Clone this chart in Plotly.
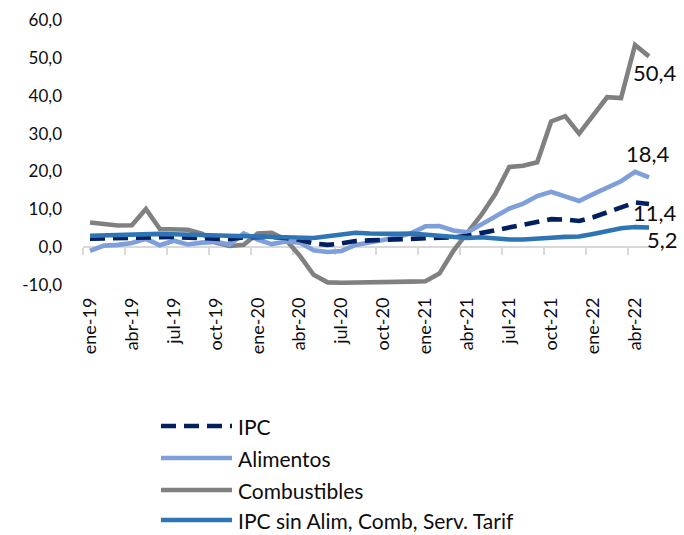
import plotly.graph_objects as go

# ---------------- data ----------------
months = [
    "ene-19", "feb-19", "mar-19", "abr-19", "may-19", "jun-19", "jul-19", "ago-19", "sep-19", "oct-19", "nov-19", "dic-19",
    "ene-20", "feb-20", "mar-20", "abr-20", "may-20", "jun-20", "jul-20", "ago-20", "sep-20", "oct-20", "nov-20", "dic-20",
    "ene-21", "feb-21", "mar-21", "abr-21", "may-21", "jun-21", "jul-21", "ago-21", "sep-21", "oct-21", "nov-21", "dic-21",
    "ene-22", "feb-22", "mar-22", "abr-22", "may-22",
]
tick_labels = months[::3]

ipc = [2.2, 2.3, 2.5, 2.6, 2.8, 2.8, 2.7, 2.5, 2.4, 2.2, 2.1, 2.6,
       2.8, 2.7, 2.4, 1.9, 1.0, 0.6, 1.0, 1.6, 1.8, 1.9, 2.0, 2.1,
       2.3, 2.4, 2.6, 3.0, 3.7, 4.6, 5.2, 5.7, 6.5, 7.4, 7.3, 6.9,
       7.9, 9.1, 10.4, 11.8, 11.4]
alimentos = [-1.0, 0.4, 0.6, 1.1, 2.2, 0.5, 1.7, 0.7, 1.2, 1.4, 0.7, 3.6,
             2.0, 0.8, 1.5, 1.2, -0.8, -1.3, -1.0, 0.6, 1.2, 1.8, 2.6, 3.7,
             5.5, 5.6, 4.4, 3.9, 6.0, 7.9, 10.2, 11.5, 13.5, 14.6, 13.4, 12.2,
             14.0, 15.6, 17.4, 19.9, 18.4]
combustibles = [6.5, 6.0, 5.7, 5.8, 10.1, 4.8, 4.8, 4.6, 3.6, 1.2, 0.3, 0.6,
                3.6, 3.8, 2.0, -2.2, -7.3, -9.3, -9.4, -9.4, -9.3, -9.3, -9.2, -9.1,
                -9.0, -7.0, -1.0, 3.8, 8.5, 14.0, 21.2, 21.5, 22.4, 33.2, 34.6, 30.0,
                34.6, 39.6, 39.4, 53.4, 50.4]
subyacente = [3.0, 3.1, 3.2, 3.4, 3.6, 3.5, 3.4, 3.3, 3.2, 3.2, 3.1, 3.1,
              3.0, 3.0, 2.8, 2.5, 2.4, 2.9, 3.4, 3.8, 3.6, 3.4, 3.5, 3.6,
              3.3, 2.9, 2.6, 2.4, 2.6, 2.2, 2.0, 2.0, 2.1, 2.5, 2.7, 2.8,
              3.5, 4.4, 5.0, 5.3, 5.2]

y_ticks = [-10, 0, 10, 20, 30, 40, 50, 60]

series_names = ["IPC", "Alimentos", "Combustibles", "IPC sin Alim, Comb, Serv. Tarif"]

# ---------------- style ----------------
W, H = 684, 535
ML, MR, MT, MB = 83, 28, 20, 250
PW, PH = W - ML - MR, H - MT - MB
FONT = "Lato"
TXT = "#0d0d0d"
C_IPC = "#002060"
C_ALI = "#7f9fda"
C_COM = "#808080"
C_SUB = "#2e75b6"
LW = 4.6
DASH = "15px,8px"

def fmt(v):
    return f"{v:.1f}".replace(".", ",")

series = [
    (series_names[0], ipc, C_IPC, DASH),
    (series_names[1], alimentos, C_ALI, "solid"),
    (series_names[2], combustibles, C_COM, "solid"),
    (series_names[3], subyacente, C_SUB, "solid"),
]

fig = go.Figure()
# draw order: combustibles, alimentos, ipc, subyacente (core on top)
for idx in [2, 1, 0, 3]:
    name, vals, col, dash = series[idx]
    fig.add_trace(go.Scatter(
        x=months, y=vals, name=name, mode="lines",
        line=dict(color=col, width=LW, dash=dash),
        showlegend=False, hoverinfo="skip",
    ))

# helper trace for the category-boundary tick axis at y = 0
n = len(months)
fig.add_trace(go.Scatter(x=[-0.5, n - 0.5], y=[0, 0], xaxis="x2", mode="markers",
                         marker=dict(opacity=0), showlegend=False, hoverinfo="skip"))

# end-of-series data labels
label_offsets = {
    "Combustibles": (6, -16),
    "Alimentos": (-1, 24),
    "IPC": (6, -9),
    "IPC sin Alim, Comb, Serv. Tarif": (13, -12),
}
for name, vals, col, dash in series:
    dx, dy = label_offsets[name]
    fig.add_annotation(x=months[-1], y=vals[-1], xref="x", yref="y",
                       text=fmt(vals[-1]), showarrow=False,
                       xshift=dx, yshift=dy,
                       font=dict(family=FONT, size=22, color=TXT))

# manual legend (long line samples like the original)
def px_x(px):
    return (px - ML) / PW

def px_y(py):
    return (MT + PH - py) / PH

legend_rows = [426, 458, 490, 520]
for (name, vals, col, dash), ry in zip(series, legend_rows):
    fig.add_shape(type="line", xref="paper", yref="paper",
                  x0=px_x(161), x1=px_x(232), y0=px_y(ry), y1=px_y(ry),
                  line=dict(color=col, width=LW, dash=dash))
    fig.add_annotation(x=px_x(237), y=px_y(ry), xref="paper", yref="paper",
                       text=name, showarrow=False, xanchor="left", yanchor="middle",
                       borderpad=0,
                       font=dict(family=FONT, size=21, color=TXT))

fig.update_layout(
    width=W, height=H,
    margin=dict(l=ML, r=MR, t=MT, b=MB, autoexpand=False),
    paper_bgcolor="white", plot_bgcolor="white",
    font=dict(family=FONT, color=TXT),
    showlegend=False,
    xaxis=dict(
        type="category", range=[-0.5, n - 0.5],
        tickmode="array", tickvals=tick_labels, ticktext=tick_labels,
        tickangle=-90, ticks="", showline=False, showgrid=False, zeroline=False,
        ticklabelstandoff=8,
        tickfont=dict(family=FONT, size=18, color=TXT),
    ),
    xaxis2=dict(
        overlaying="x", anchor="free", position=(0 - y_ticks[0]) / (y_ticks[-1] - y_ticks[0]),
        side="bottom", range=[-0.5, n - 0.5], type="linear",
        tickmode="array", tickvals=[i - 0.5 for i in range(0, n, 3)],
        ticks="outside", ticklen=7, tickwidth=1.5, tickcolor="#d9d9d9",
        showline=True, linecolor="#d9d9d9", linewidth=1.5,
        showticklabels=False, showgrid=False, zeroline=False, layer="below traces",
    ),
    yaxis=dict(
        range=[y_ticks[0], y_ticks[-1]],
        tickmode="array", tickvals=y_ticks, ticktext=[fmt(v) for v in y_ticks],
        ticks="", showline=False, showgrid=False, zeroline=False,
        ticklabelstandoff=20,
        tickfont=dict(family=FONT, size=17, color=TXT),
    ),
)

fig.write_html("out.html", config={"displayModeBar": False},
               post_script="document.body.style.margin='0px';")
